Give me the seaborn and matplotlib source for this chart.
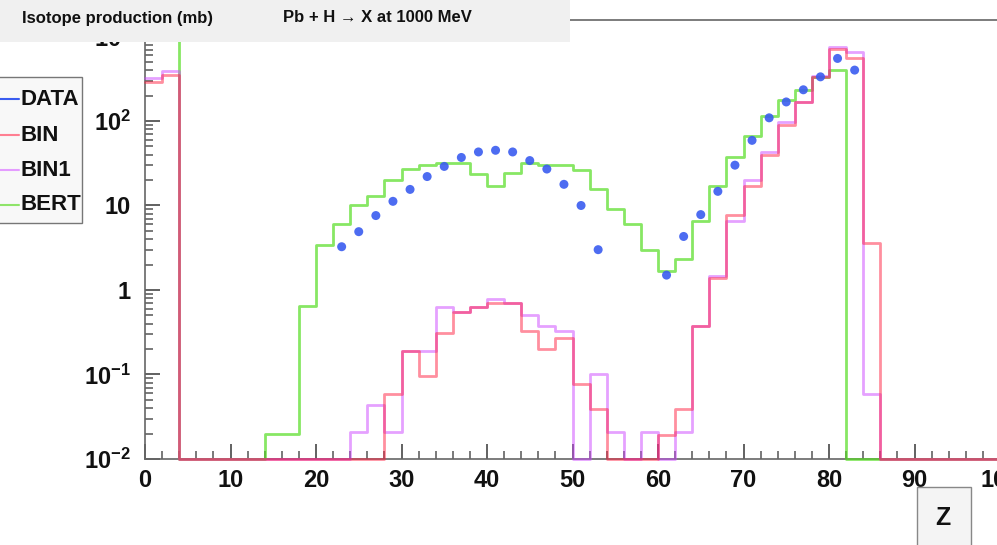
import numpy as np
import pandas as pd
import matplotlib
matplotlib.use("Agg")
import matplotlib.pyplot as plt
from matplotlib.patches import Rectangle
from matplotlib.lines import Line2D
from matplotlib.ticker import MultipleLocator, LogLocator, NullFormatter
import seaborn as sns

# ---------------- data ----------------
bin_edges = list(range(0, 101, 2))  # Z bins of width 2

bert = [900, 900, 0, 0, 0, 0, 0, 0.02, 0.02, 0.65,
        3.4, 6, 10, 13, 20, 27, 30, 32, 32, 23.5,
        17, 24, 32, 30, 30, 26, 15.5, 9, 6, 3.0,
        1.7, 2.3, 6.6, 17, 37, 66, 115, 178, 234, 330,
        400, 0, 0, 0, 0, 0, 0, 0, 0, 0]

bin_ = [290, 350, 0, 0, 0, 0, 0, 0, 0, 0,
        0, 0, 0, 0, 0.059, 0.19, 0.095, 0.31, 0.55, 0.63,
        0.70, 0.70, 0.33, 0.20, 0.27, 0.078, 0.039, 0, 0, 0,
        0.019, 0.039, 0.37, 1.39, 7.8, 16.8, 40, 89, 168, 330,
        720, 550, 3.6, 0, 0, 0, 0, 0, 0, 0]

bin1 = [320, 390, 0, 0, 0, 0, 0, 0, 0, 0,
        0, 0, 0.021, 0.043, 0.021, 0.19, 0.19, 0.63, 0.55, 0.63,
        0.78, 0.70, 0.50, 0.38, 0.33, 0, 0.10, 0.021, 0, 0.021,
        0, 0.021, 0.38, 1.45, 6.6, 20, 43, 98, 168, 340,
        760, 650, 0.059, 0, 0, 0, 0, 0, 0, 0]

data_z = [23, 25, 27, 29, 31, 33, 35, 37, 39, 41, 43, 45, 47, 49, 51, 53,
          61, 63, 65, 67, 69, 71, 73, 75, 77, 79, 81, 83]
data_v = [3.25, 4.9, 7.6, 11.2, 15.5, 22, 29, 37, 43, 45, 43, 34, 27, 17.8, 10, 3.0,
          1.5, 4.3, 7.8, 14.7, 30, 59, 109, 168, 234, 333, 550, 400]

series_names = ["DATA", "BIN", "BIN1", "BERT"]
x_ticks = [0, 10, 20, 30, 40, 50, 60, 70, 80, 90, 100]
y_ticks = [1e-2, 1e-1, 1, 10, 1e2, 1e3]
y_tick_labels = [r"$10^{-2}$", r"$10^{-1}$", "1", "10", r"$10^{2}$", r"$10^{3}$"]

# ---------------- style ----------------
sns.set_style("white")
plt.rcParams["font.family"] = ["Liberation Sans", "DejaVu Sans"]
plt.rcParams["font.weight"] = "bold"
plt.rcParams["mathtext.fontset"] = "custom"
plt.rcParams["mathtext.rm"] = "Liberation Sans:bold"
plt.rcParams["mathtext.it"] = "Liberation Sans:bold"
plt.rcParams["mathtext.bf"] = "Liberation Sans:bold"

W, H = 997, 545
fig = plt.figure(figsize=(W / 100, H / 100), dpi=100)
fig.patch.set_facecolor("white")

def fx(px):
    return px / W

def fy(py):
    return 1 - py / H

ax_left, ax_right, ax_top, ax_bot = 145, 1000, 20, 459
ax = fig.add_axes([fx(ax_left), fy(ax_bot), (ax_right - ax_left) / W, (ax_bot - ax_top) / H])

ymin, ymax = 1e-2, 10 ** 3.195
ax.set_yscale("log")

col_red = "#ff2040"
col_vio = "#cc44ff"
col_grn = "#55dd22"
col_blu = "#3a5cf0"

def hist_df(vals):
    v = np.maximum(np.array(vals, dtype=float), ymin)
    y = np.append(v, v[-1])
    return pd.DataFrame({"Z": bin_edges, "v": y})

lw = 2.0
for vals, col, al in [(bert, col_grn, 0.7), (bin1, col_vio, 0.5), (bin_, col_red, 0.5)]:
    sns.lineplot(data=hist_df(vals), x="Z", y="v", ax=ax, color=col, alpha=al,
                 lw=lw, drawstyle="steps-post", estimator=None, sort=False,
                 zorder=3, clip_on=False)
sns.scatterplot(x=data_z, y=data_v, ax=ax, color=col_blu, s=42, edgecolor="none",
                alpha=0.9, zorder=5)

ax.set_xlim(0, 100)
ax.set_ylim(ymin, ymax)
ax.set_xlabel("")
ax.set_ylabel("")

ax.set_xticks(x_ticks)
ax.set_xticklabels([str(t) for t in x_ticks])
ax.xaxis.set_minor_locator(MultipleLocator(2))
ax.set_yticks(y_ticks)
ax.set_yticklabels(y_tick_labels)
ax.yaxis.set_minor_locator(LogLocator(base=10, subs=np.arange(2, 10)))
ax.yaxis.set_minor_formatter(NullFormatter())

ax.tick_params(axis="both", which="major", direction="in", length=11, width=1.3,
               color="#555555", labelsize=17)
ax.tick_params(axis="both", which="minor", direction="in", length=6, width=1.1,
               color="#555555")
ax.tick_params(axis="x", which="both", bottom=True, top=False, pad=7)
ax.tick_params(axis="y", which="both", left=True, right=False, pad=10)
for lbl in ax.get_xticklabels() + ax.get_yticklabels():
    lbl.set_fontweight("bold")
    lbl.set_color("#111111")

for s in ["left", "bottom", "top", "right"]:
    ax.spines[s].set_color("#666666")
    ax.spines[s].set_linewidth(1.2)

# ---------------- title box ----------------
fig.add_artist(Rectangle((0, fy(42)), fx(570), 42 / H, transform=fig.transFigure,
                         facecolor="#f0f0f0", edgecolor="none", zorder=10))
fig.text(fx(22), fy(18), "Isotope production (mb)", fontsize=12, fontweight="bold",
         va="center", ha="left", color="#111111", zorder=11)
fig.text(fx(283), fy(18), "Pb + H \u2192 X at 1000 MeV", fontsize=12, fontweight="bold",
         va="center", ha="left", color="#111111", zorder=11)

# ---------------- legend ----------------
fig.add_artist(Rectangle((fx(-2), fy(223)), fx(84), (223 - 77) / H, transform=fig.transFigure,
                         facecolor="#f8f8f8", edgecolor="#777777", lw=1.0, zorder=10))
leg_cols = [col_blu, "#ff7f92", "#e49cff", "#8fe46a"]
leg_y = [99, 135, 170, 205]
for name, c, yy in zip(series_names, leg_cols, leg_y):
    fig.add_artist(Line2D([fx(0), fx(19)], [fy(yy), fy(yy)], transform=fig.transFigure,
                          color=c, lw=1.5, zorder=11))
    fig.text(fx(20), fy(yy), name, fontsize=16, fontweight="bold", va="center",
             ha="left", color="#111111", zorder=11)

# ---------------- Z box ----------------
fig.add_artist(Rectangle((fx(917), fy(548)), fx(54), (548 - 487) / H, transform=fig.transFigure,
                         facecolor="#f4f4f4", edgecolor="#888888", lw=1.0, zorder=10))
fig.text(fx(943), fy(518), "Z", fontsize=18, fontweight="bold", va="center",
         ha="center", color="#111111", zorder=11)

fig.savefig("out.png", dpi=100)
